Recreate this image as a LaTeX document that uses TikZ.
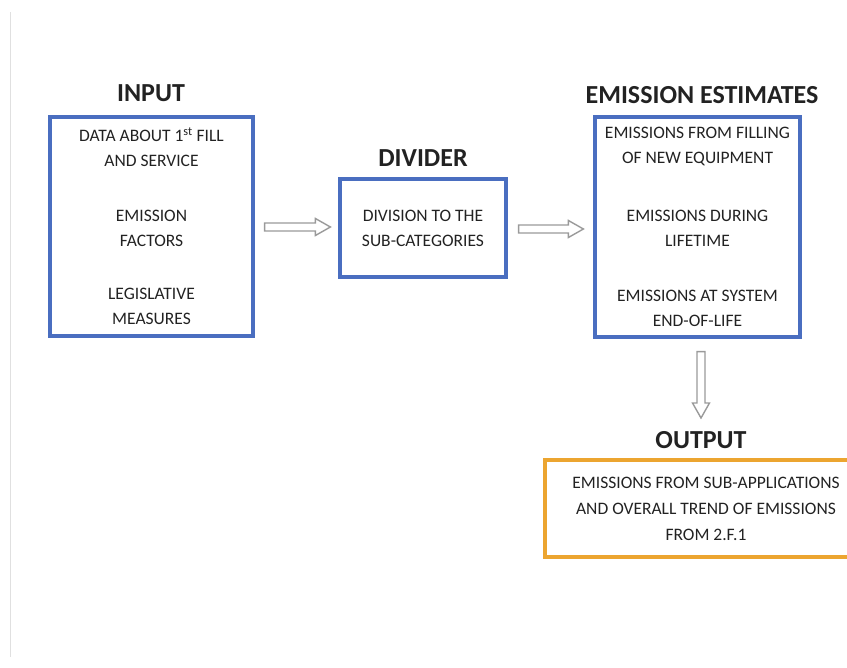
\documentclass[tikz,border=0pt]{standalone}
\usepackage{fontspec}
\setmainfont{Carlito}
\usetikzlibrary{calc}
\definecolor{boxblue}{HTML}{4A6EC0}
\definecolor{boxorange}{HTML}{ECA530}
\definecolor{arrowgrey}{HTML}{9A9A9A}
\definecolor{txt}{HTML}{222222}
\tikzset{
  x=1pt,y=1pt,
  bluebox/.style={draw=boxblue,line width=3.2pt,align=center,inner sep=0pt,text=txt,
    font=\fontsize{17.5}{25}\selectfont},
  orangebox/.style={draw=boxorange,line width=3.2pt,align=center,inner sep=0pt,text=txt,
    font=\fontsize{17.5}{26}\selectfont},
  titletext/.style={text=txt,font=\fontsize{26}{30}\selectfont\bfseries,inner sep=0pt},
  blockarrow/.style={draw=arrowgrey,fill=white,line width=1.4pt,line join=miter},
}
\begin{document}
\begin{tikzpicture}
\useasboundingbox (0,0) rectangle (847,-668);
\draw[draw=black!12,line width=0.8pt] (10,-12) coordinate (lt) -- (10,-657) coordinate (lb);
% boxes
\node[bluebox,minimum width=203,minimum height=219] (in) at (151.5,-226.5)
  {DATA ABOUT 1\textsuperscript{st} FILL\\AND SERVICE\\[30pt]EMISSION\\FACTORS\\[28pt]LEGISLATIVE\\MEASURES};
\node[bluebox,minimum width=166,minimum height=98] (div) at (423,-228)
  {DIVISION TO THE\\SUB-CATEGORIES};
\node[bluebox,minimum width=205,minimum height=220] (est) at (697.5,-227)
  {EMISSIONS FROM FILLING\\OF NEW EQUIPMENT\\[33pt]EMISSIONS DURING\\LIFETIME\\[30pt]EMISSIONS AT SYSTEM\\END-OF-LIFE};
\node[orangebox,minimum width=322,minimum height=97] (out) at (706,-508.5)
  {EMISSIONS FROM SUB-APPLICATIONS\\AND OVERALL TREND OF EMISSIONS\\FROM 2.F.1};
% titles
\node[titletext] (tin) at (151,-93) {INPUT};
\node[titletext] (tdiv) at (423,-158) {DIVIDER};
\node[titletext] (test) at (702,-95) {EMISSION ESTIMATES};
\node[titletext] (tout) at (701,-440) {OUTPUT};
% arrows
\coordinate (a1s) at ($(in.east)+(10,-0.5)$);
\coordinate (a1e) at ($(div.west)+(-8,-1)$);
\coordinate (a2s) at ($(div.east)+(11,-1)$);
\coordinate (a2e) at ($(est.west)+(-10,0)$);
\coordinate (a3s) at ($(est.south)+(3.5,-13)$);
\coordinate (a3e) at ($(tout.north)+(0,-10)$);
\draw[blockarrow] let \p1=(a1s), \p2=(a1e) in
  (\x1,\y1+4) -- (\x2-15,\y1+4) -- (\x2-15,\y1+8.5) -- (\x2,\y1) -- (\x2-15,\y1-8.5) -- (\x2-15,\y1-4) -- (\x1,\y1-4) -- cycle;
\draw[blockarrow] let \p1=(a2s), \p2=(a2e) in
  (\x1,\y1+4) -- (\x2-15,\y1+4) -- (\x2-15,\y1+8.5) -- (\x2,\y1) -- (\x2-15,\y1-8.5) -- (\x2-15,\y1-4) -- (\x1,\y1-4) -- cycle;
\draw[blockarrow] let \p1=(a3s), \p2=(0,-418) in
  (\x1-4,\y1) -- (\x1-4,\y2+15) -- (\x1-8.5,\y2+15) -- (\x1,\y2) -- (\x1+8.5,\y2+15) -- (\x1+4,\y2+15) -- (\x1+4,\y1) -- cycle;
\end{tikzpicture}
\end{document}
